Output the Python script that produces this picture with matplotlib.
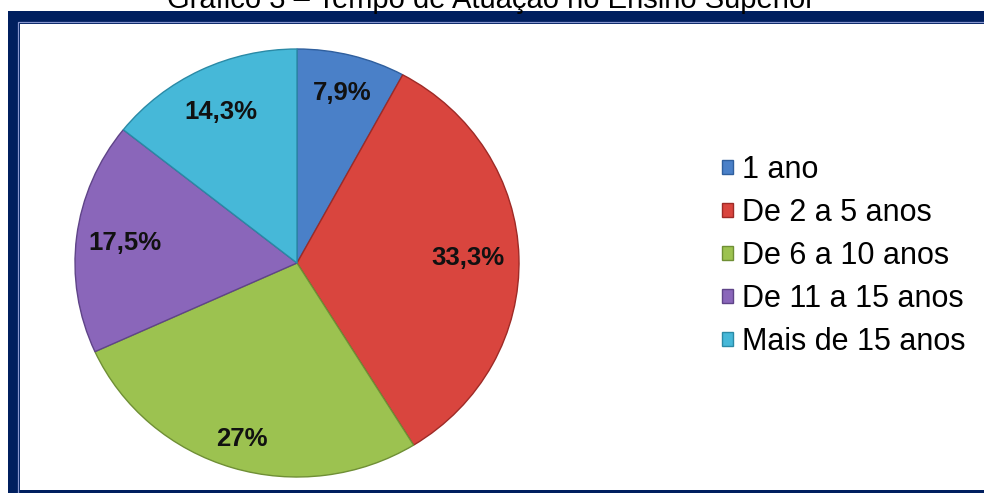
import numpy as np
import matplotlib.pyplot as plt
from matplotlib.patches import Rectangle

categorias = ['1 ano', 'De 2 a 5 anos', 'De 6 a 10 anos', 'De 11 a 15 anos', 'Mais de 15 anos']
percentuais = [7.9, 33.3, 27, 17.5, 14.3]
cores = ['#4a80c8', '#d9453e', '#9cc250', '#8a66ba', '#46b8d8']
bordas = ['#2f5f9e', '#9e2a26', '#6f8f35', '#5f4488', '#2a8aa6']
titulo = 'Gráfico 3 – Tempo de Atuação no Ensino Superior'

# distancia radial de cada rotulo de porcentagem
dist_rotulos = [0.82, 0.77, 0.86, 0.78, 0.785]

W, H = 984, 493
NAVY = '#001f5f'

fig = plt.figure(figsize=(W / 100, H / 100), dpi=100)
fig.patch.set_facecolor('white')


def px_rect(x0, y0, x1, y1, **kw):
    # rectangle in pixel coords measured from the top-left corner
    r = Rectangle((x0 / W, 1 - y1 / H), (x1 - x0) / W, (y1 - y0) / H,
                  transform=fig.transFigure, **kw)
    fig.patches.append(r)
    return r


# moldura azul (atras dos eixos)
px_rect(8, 11, W + 10, H + 10, facecolor=NAVY, edgecolor='none', zorder=-3)
px_rect(17.5, 21.5, W + 10, H + 10, facecolor='none', edgecolor='#8796cf', lw=0.9, zorder=-2)
px_rect(20, 24, W + 10, 490, facecolor='white', edgecolor='none', zorder=-1)

fig.text(491 / W, 1 - 8 / H, titulo, ha='center', va='baseline', fontsize=21,
         family='Liberation Sans', color='black')

# pizza
ax = fig.add_axes([75 / W, 16 / H, 444 / W, 428 / H])
ax.patch.set_alpha(0)
wedges, _ = ax.pie(percentuais, colors=cores, startangle=90, counterclock=False,
                   radius=1, wedgeprops=dict(linewidth=1.0))
for w, b in zip(wedges, bordas):
    w.set_edgecolor(b)

for w, v, d in zip(wedges, percentuais, dist_rotulos):
    ang = np.deg2rad((w.theta1 + w.theta2) / 2)
    txt = f'{v:g}'.replace('.', ',') + '%'
    ax.text(d * np.cos(ang), d * np.sin(ang), txt, ha='center', va='center',
            fontsize=18.5, fontweight='bold', family='Liberation Sans', color='#111111')

ax.set_aspect('auto')
ax.set_xlim(-1, 1)
ax.set_ylim(-1, 1)
ax.axis('off')

leg = fig.legend(wedges, categorias, loc='upper left',
                 bbox_to_anchor=(710 / W, 1 - 143 / H), frameon=False,
                 prop=dict(family='Liberation Sans', size=22),
                 handlelength=0.35, handleheight=0.35, handletextpad=0.3,
                 labelspacing=0.425, borderaxespad=0)

fig.savefig('out.png', dpi=100)
